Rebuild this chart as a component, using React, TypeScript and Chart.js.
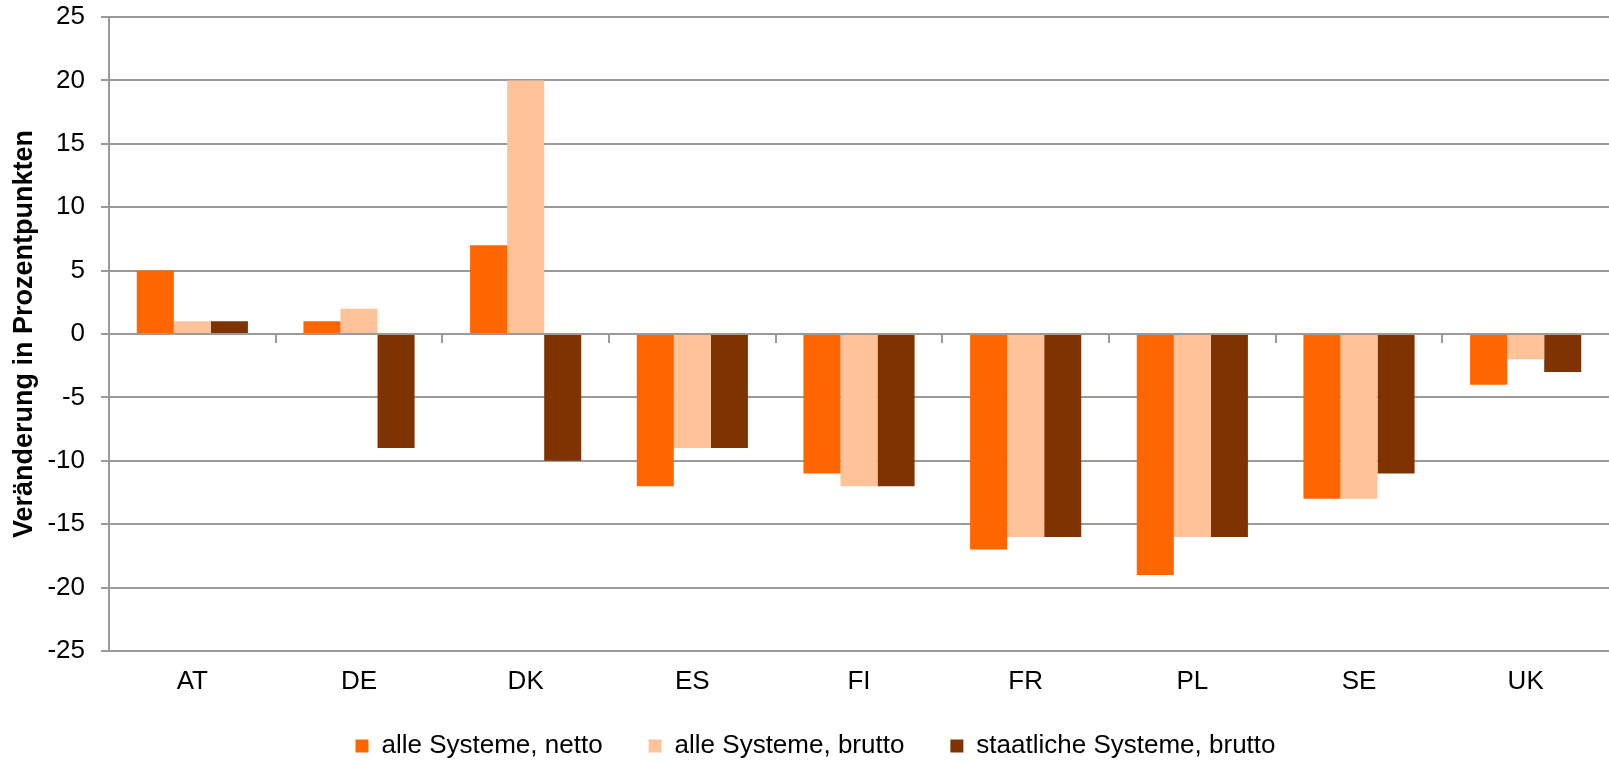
import React, { useEffect, useRef } from "react";
import { Chart, registerables } from "chart.js";

Chart.register(...registerables);

const categories = ["AT", "DE", "DK", "ES", "FI", "FR", "PL", "SE", "UK"];
const netto = [5, 1, 7, -12, -11, -17, -19, -13, -4];
const brutto = [1, 2, 20, -9, -12, -16, -16, -13, -2];
const staatlichBrutto = [1, -9, -10, -9, -12, -16, -16, -11, -3];
const seriesNames = ["alle Systeme, netto", "alle Systeme, brutto", "staatliche Systeme, brutto"];
const yTitle = "Veränderung in Prozentpunkten";

const FONT = "'Liberation Sans', Arial, sans-serif";
const GRID = "#9a9a9a";

const zeroAxisPlugin = {
  id: "zeroAxis",
  afterDatasetsDraw(chart: any) {
    const { ctx, chartArea, scales } = chart;
    const x = scales.x;
    const y = scales.y;
    const y0 = y.getPixelForValue(0);
    const step = x.getPixelForValue(1) - x.getPixelForValue(0);
    ctx.save();
    ctx.strokeStyle = GRID;
    ctx.lineWidth = 2;
    ctx.beginPath();
    ctx.moveTo(chartArea.left, y0);
    ctx.lineTo(chartArea.right, y0);
    for (let i = 1; i < categories.length; i++) {
      const bx = Math.round(x.getPixelForValue(i) - step / 2);
      ctx.moveTo(bx, y0);
      ctx.lineTo(bx, y0 + 9);
    }
    ctx.stroke();
    ctx.restore();
  },
};

const legendShiftPlugin = {
  id: "legendShift",
  afterLayout(chart: any) {
    const l = chart.legend;
    if (l) {
      l.left += 11;
      l.right += 11;
      l.top -= 24;
      l.bottom -= 24;
    }
  },
};

export default function App() {
  const ref = useRef<HTMLCanvasElement | null>(null);

  useEffect(() => {
    if (!ref.current) return;
    Chart.defaults.color = "#000";
    const chart = new Chart(ref.current, {
      type: "bar",
      data: {
        labels: categories,
        datasets: [
          { label: seriesNames[0], data: netto, backgroundColor: "#FF6600" },
          { label: seriesNames[1], data: brutto, backgroundColor: "#FFC299" },
          { label: seriesNames[2], data: staatlichBrutto, backgroundColor: "#7F3300" },
        ],
      },
      options: {
        responsive: false,
        animation: false,
        devicePixelRatio: 1,
        datasets: { bar: { categoryPercentage: 0.667, barPercentage: 1.0 } },
        layout: { padding: { top: 17, left: 0, right: 0, bottom: -32 } },
        plugins: {
          tooltip: { enabled: false },
          legend: {
            position: "bottom",
            labels: {
              boxWidth: 13,
              boxHeight: 13,
              padding: 46,
              color: "#000",
              font: { family: FONT, size: 26 },
            },
          },
        },
        scales: {
          x: {
            grid: { display: false, drawTicks: false },
            border: { display: false },
            ticks: { color: "#000", padding: 15, font: { family: FONT, size: 26 } },
            afterFit(scale: any) {
              scale.height = 60;
            },
          },
          y: {
            min: -25,
            max: 25,
            ticks: { stepSize: 5, color: "#000", padding: 16, font: { family: FONT, size: 26 } },
            grid: { color: GRID, lineWidth: 2, tickLength: 8, tickColor: GRID, drawTicks: true },
            border: { display: true, color: GRID, width: 2 },
            title: {
              display: true,
              text: yTitle,
              color: "#000",
              padding: { top: 8, bottom: 0 },
              font: { family: FONT, size: 27, weight: "bold" },
            },
            afterFit(scale: any) {
              scale.width = 109;
              scale.paddingTop = 0;
              scale.paddingBottom = 0;
            },
          },
        },
      },
      plugins: [zeroAxisPlugin, legendShiftPlugin],
    });
    return () => chart.destroy();
  }, []);

  return (
    <div style={{ position: "fixed", left: 0, top: 0, width: 1609, height: 761, background: "#fff", overflow: "hidden" }}>
      <canvas ref={ref} width={1609} height={761} style={{ display: "block" }} />
    </div>
  );
}
